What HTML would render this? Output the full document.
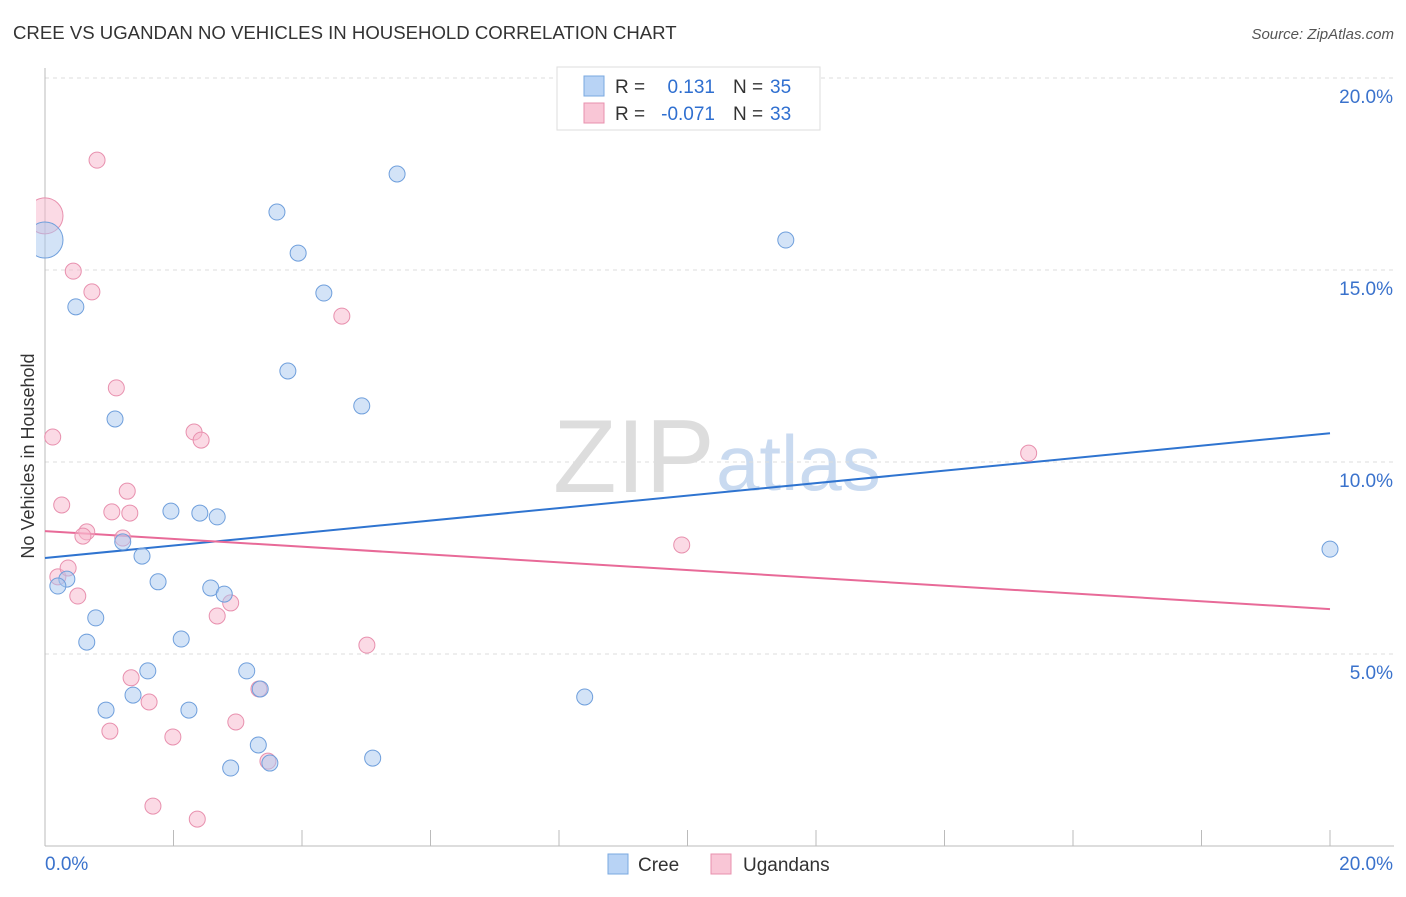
<!DOCTYPE html>
<html><head><meta charset="utf-8"><style>
body{margin:0;background:#fff;font-family:"Liberation Sans",sans-serif;}
svg text{font-family:"Liberation Sans",sans-serif;}
</style></head><body>
<svg id="chart" width="1406" height="892" xmlns="http://www.w3.org/2000/svg">
<defs><clipPath id="plotclip"><rect x="36" y="60" width="1370" height="790"/></clipPath></defs>
<text x="13" y="39" font-size="18.6" fill="#333">CREE VS UGANDAN NO VEHICLES IN HOUSEHOLD CORRELATION CHART</text>
<text x="1394" y="39" font-size="15" fill="#555" font-style="italic" text-anchor="end">Source: ZipAtlas.com</text>
<g>
<text x="553" y="492" font-size="104" fill="#ddd" font-family="Liberation Serif, serif">ZIP</text>
<text x="716" y="490" font-size="78" fill="#c9daf0">atlas</text>
</g>
<g id="grid"></g>
<g id="axes"></g>
<g id="lines"></g>
<g id="pts" clip-path="url(#plotclip)"></g>
<g>
<rect x="557" y="67" width="263" height="63" fill="#fff" stroke="#ddd"/>
<rect x="584" y="76" width="20" height="20" fill="#b8d3f5" stroke="#7aa8e0"/>
<rect x="584" y="103" width="20" height="20" fill="#f9c6d6" stroke="#e890ae"/>
<text x="615" y="93" font-size="19" fill="#333">R =</text>
<text x="715" y="93" font-size="19" fill="#2f6fd0" text-anchor="end">0.131</text>
<text x="733" y="93" font-size="19" fill="#333">N =</text>
<text x="770" y="93" font-size="19" fill="#2f6fd0">35</text>
<text x="615" y="120" font-size="19" fill="#333">R =</text>
<text x="715" y="120" font-size="19" fill="#2f6fd0" text-anchor="end">-0.071</text>
<text x="733" y="120" font-size="19" fill="#333">N =</text>
<text x="770" y="120" font-size="19" fill="#2f6fd0">33</text>
</g>
<g>
<rect x="608" y="854" width="20" height="20" fill="#b8d3f5" stroke="#7aa8e0"/>
<text x="638" y="871" font-size="19" fill="#333">Cree</text>
<rect x="711" y="854" width="20" height="20" fill="#f9c6d6" stroke="#e890ae"/>
<text x="743" y="871" font-size="19" fill="#333">Ugandans</text>
</g>
<text transform="translate(34,456) rotate(-90)" font-size="18" fill="#333" text-anchor="middle">No Vehicles in Household</text>
</svg>
<script>
const creeX=[0,0.48,1.09,0.34,0.20,0.79,0.65,1.21,1.51,1.76,1.96,2.41,2.68,2.58,2.79,2.12,1.60,1.37,0.95,2.24,3.14,3.35,3.32,2.89,3.50,3.61,3.94,4.34,3.78,4.93,5.48,5.10,8.40,11.53,20.0];
const creeY=[15.78,14.04,11.12,6.95,6.77,5.94,5.31,7.92,7.55,6.88,8.72,8.67,8.57,6.72,6.56,5.39,4.56,3.93,3.54,3.54,4.56,4.09,2.63,2.03,2.16,16.51,15.44,14.40,12.37,11.46,17.50,2.29,3.88,15.78,7.73];
const ugX=[0,0.81,0.44,0.73,4.62,1.11,0.12,2.32,2.43,0.26,1.28,1.04,1.32,0.65,0.59,1.21,0.20,0.36,0.51,2.68,2.89,5.01,1.34,1.62,3.33,1.01,1.99,2.97,3.47,1.68,2.37,9.91,15.31];
const ugY=[16.41,17.86,14.97,14.43,13.80,11.93,10.65,10.78,10.57,8.88,9.24,8.70,8.67,8.18,8.07,8.02,7.01,7.24,6.51,5.99,6.33,5.23,4.38,3.75,4.09,2.99,2.84,3.23,2.21,1.04,0.70,7.84,10.23];
const creeTrend=[7.5,10.75];
const ugTrend=[8.2,6.17];
const yTicks=[5,10,15,20];
const xTickLabels=["0.0%","20.0%"];
const NS="http://www.w3.org/2000/svg";
const sx=v=>45+v*1285/20, sy=v=>846-v*38.4;
function mk(t,a,p){const e=document.createElementNS(NS,t);for(const k in a)e.setAttribute(k,a[k]);p.appendChild(e);return e;}
const grid=document.getElementById('grid'),axes=document.getElementById('axes'),lines=document.getElementById('lines'),pts=document.getElementById('pts');
yTicks.forEach(v=>{
 const l=mk('line',{x1:45,x2:1394,y1:sy(v),y2:sy(v),stroke:'#ddd','stroke-dasharray':'4,4'},grid);
 
 
 const t=mk('text',{x:1393,y:sy(v)+25,'font-size':19,fill:'#3a72cc','text-anchor':'end'},axes);
 t.textContent=v.toFixed(1)+'%';
 
 
});
mk('line',{x1:45,x2:45,y1:68,y2:846,stroke:'#bbb'},axes);
mk('line',{x1:45,x2:1394,y1:846,y2:846,stroke:'#bbb'},axes);
for(let i=0;i<=10;i++){const x=sx(i*2);mk('line',{x1:x,x2:x,y1:830,y2:846,stroke:'#bbb'},axes);}
const xl=mk('text',{x:45,y:870,'font-size':19,fill:'#3a72cc'},axes);xl.textContent=xTickLabels[0];


const xr=mk('text',{x:1393,y:870,'font-size':19,fill:'#3a72cc','text-anchor':'end'},axes);xr.textContent=xTickLabels[1];


function pointsFor(X,Y,fill,stroke,name){
 X.forEach((v,i)=>{
  const c=mk('circle',{cx:sx(v),cy:sy(Y[i]),r:i===0?18:8,fill:fill,'fill-opacity':0.5,stroke:stroke,'stroke-width':1},pts);
  
  
 });
}
pointsFor(ugX,ugY,'#f7b6cb','#e890ae','ugandans-point');
pointsFor(creeX,creeY,'#a8c8f0','#6f9fdc','cree-point');
const bl=mk('line',{x1:sx(0),x2:sx(20),y1:sy(creeTrend[0]),y2:sy(creeTrend[1]),stroke:'#2f74d0','stroke-width':2},lines);


const pl=mk('line',{x1:sx(0),x2:sx(20),y1:sy(ugTrend[0]),y2:sy(ugTrend[1]),stroke:'#e86a98','stroke-width':2},lines);


</script>
</body></html>
